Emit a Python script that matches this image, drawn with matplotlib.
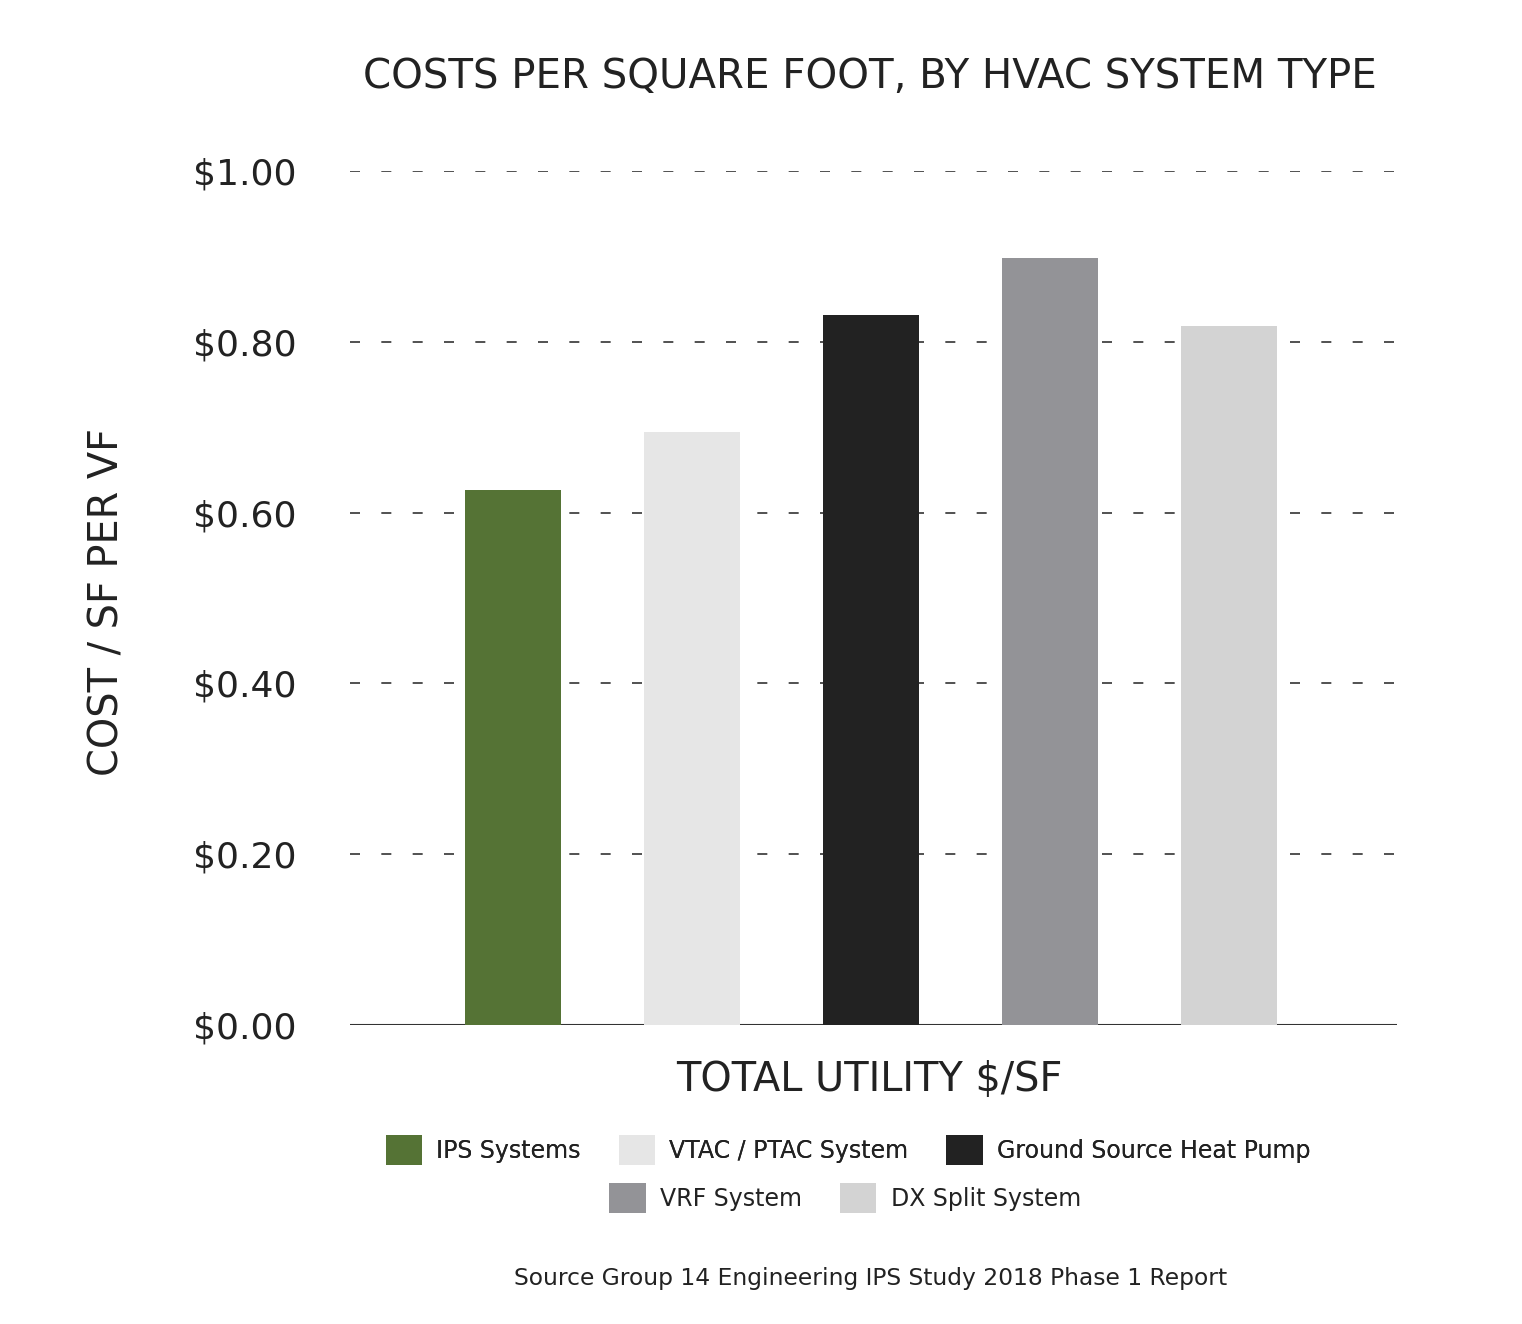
import numpy as np
import matplotlib.pyplot as plt
from matplotlib.patches import Patch

systems = ['IPS Systems', 'VTAC / PTAC System', 'Ground Source Heat Pump',
           'VRF System', 'DX Split System']
costs = [0.626, 0.694, 0.831, 0.898, 0.818]
bar_colors = ['#557335', '#e6e6e6', '#222222', '#939397', '#d3d3d3']
tick_values = [0.0, 0.2, 0.4, 0.6, 0.8, 1.0]
tick_labels = ['$0.00', '$0.20', '$0.40', '$0.60', '$0.80', '$1.00']

plt.rcParams['font.family'] = ['DejaVu Sans']
text_color = '#222222'

fig = plt.figure(figsize=(15.22, 13.24), dpi=100)
ax = fig.add_axes([350 / 1522, 1 - 1025 / 1324, 1047 / 1522, 854 / 1324])

x = np.arange(len(systems))
ax.bar(x, costs, width=0.536, color=bar_colors, zorder=3)

ax.set_xlim(-0.911, len(systems) - 1 + 0.939)
ax.set_ylim(0, 1.0)

for v in tick_values[1:]:
    ax.axhline(v, color='#333333', lw=1.2, ls=(0, (6, 12.8)), zorder=1)
ax.axhline(0, color='#333333', lw=1.5, zorder=1)

ax.set_yticks(tick_values)
ax.set_yticklabels(tick_labels, fontsize=26, color=text_color)
for lab in ax.get_yticklabels():
    lab.set_horizontalalignment('left')
ax.tick_params(axis='y', length=0, pad=113)
ax.set_xticks([])
for s in ax.spines.values():
    s.set_visible(False)

fig.text(870 / 1522, 1 - 77 / 1324, 'COSTS PER SQUARE FOOT, BY HVAC SYSTEM TYPE',
         ha='center', va='center', fontsize=29, color=text_color)
fig.text(108 / 1522, 1 - 602 / 1324, 'COST / SF PER VF', rotation=90,
         ha='center', va='center', fontsize=28.7, color=text_color)
fig.text(869 / 1522, 1 - 1080 / 1324, 'TOTAL UTILITY $/SF',
         ha='center', va='center', fontsize=28.7, color=text_color)

handles = [Patch(facecolor=c, edgecolor='none') for c in bar_colors]
leg_kw = dict(frameon=False, fontsize=17, handlelength=1.55, handleheight=1.55,
              handletextpad=0.6, columnspacing=1.6, labelcolor=text_color,
              borderaxespad=0, borderpad=0)
leg1 = fig.legend(handles[:3], systems[:3], ncol=3, loc='center',
                  bbox_to_anchor=(848 / 1522, 1 - 1150 / 1324), **leg_kw)
fig.add_artist(leg1)
fig.legend(handles[3:], systems[3:], ncol=2, loc='center',
           bbox_to_anchor=(845 / 1522, 1 - 1198 / 1324), **leg_kw)

fig.text(871 / 1522, 1 - 1278 / 1324,
         'Source Group 14 Engineering IPS Study 2018 Phase 1 Report',
         ha='center', va='center', fontsize=16.8, color=text_color)

fig.savefig('out.png', dpi=100, facecolor='white')
